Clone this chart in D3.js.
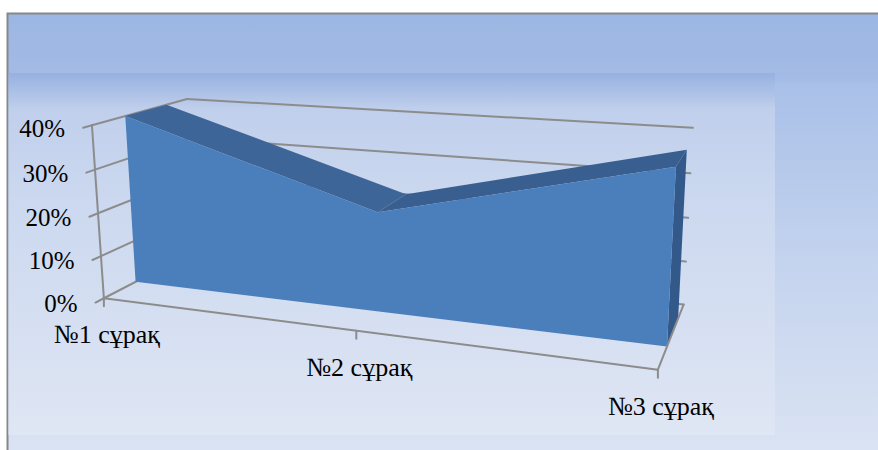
<!DOCTYPE html>
<html>
<head>
<meta charset="utf-8">
<script src="https://cdn.jsdelivr.net/npm/d3@7"></script>
<style>
  body { margin: 0; background: #ffffff; }
  svg { display: block; }
</style>
</head>
<body>
<div id="chart"></div>
<script>
const categories = ['№1 сұрақ', '№2 сұрақ', '№3 сұрақ'];
const values = [0.40, 0.225, 0.37];
const yTicks = [0, 0.1, 0.2, 0.3, 0.4];

const width = 878;
const height = 450;
const fontFamily = '"Liberation Serif", "Times New Roman", serif';
const gridColor = '#8c8c8c';

// depth of the area slab inside the box (0 = front, 1 = back wall)
const zFront = 0.32;
const zBack = 0.76;

// where the corners of the 3d box land on screen: [X, Y, Z, px, py]
const boxAnchors = [
  [0, 1, 0, 92, 125], [0, 0.75, 0, 95, 170], [0, 0.5, 0, 98, 213],
  [0, 0.25, 0, 101, 256], [0, 0, 0, 104, 298],
  [0, 1, 1, 187, 99],
  [1, 1, 1, 693, 128], [1, 0.75, 1, 690, 173], [1, 0.5, 1, 688, 218],
  [1, 0.25, 1, 687, 262], [1, 0, 1, 683, 304],
  [1, 0, 0, 658, 369], [0.5, 0, 0, 356, 332]
];

// fits a perspective projection (3x4 matrix, last entry 1) to the anchors
function fitProjection(anchors) {
  const n = 11;
  const cx = 440, cy = 225, s = 440;
  const A = Array.from({ length: n }, () => new Array(n + 1).fill(0));
  const addRow = (r, b) => {
    for (let i = 0; i < n; i++) {
      for (let j = 0; j < n; j++) A[i][j] += r[i] * r[j];
      A[i][n] += r[i] * b;
    }
  };
  anchors.forEach(([X, Y, Z, u, v]) => {
    const un = (u - cx) / s, vn = (v - cy) / s;
    addRow([X, Y, Z, 1, 0, 0, 0, 0, -un * X, -un * Y, -un * Z], un);
    addRow([0, 0, 0, 0, X, Y, Z, 1, -vn * X, -vn * Y, -vn * Z], vn);
  });
  for (let c = 0; c < n; c++) {
    let piv = c;
    for (let r = c + 1; r < n; r++) if (Math.abs(A[r][c]) > Math.abs(A[piv][c])) piv = r;
    [A[c], A[piv]] = [A[piv], A[c]];
    for (let r = 0; r < n; r++) {
      if (r === c) continue;
      const f = A[r][c] / A[c][c];
      for (let k = c; k <= n; k++) A[r][k] -= f * A[c][k];
    }
  }
  const p = A.map((row, i) => row[n] / row[i]);
  return (X, Y, Z) => {
    const w = p[8] * X + p[9] * Y + p[10] * Z + 1;
    const u = (p[0] * X + p[1] * Y + p[2] * Z + p[3]) / w;
    const v = (p[4] * X + p[5] * Y + p[6] * Z + p[7]) / w;
    return [u * s + cx, v * s + cy];
  };
}

const project = fitProjection(boxAnchors);

const x = d3.scalePoint().domain(categories).range([0, 1]);
const y = d3.scaleLinear().domain([0, 0.4]).range([0, 1]);
const pct = d3.format('.0%');

const svg = d3.select('#chart')
  .append('svg')
  .attr('width', width)
  .attr('height', height);

const defs = svg.append('defs');

const chartGrad = defs.append('linearGradient')
  .attr('id', 'chartGrad').attr('x1', 0).attr('y1', 0).attr('x2', 0).attr('y2', 1);
[[0, '#9cb6e3'], [0.14, '#a3bbe5'], [0.16, '#a9c0e8'], [0.55, '#c4d3ee'], [1, '#dbe4f3']]
  .forEach(([o, c]) => chartGrad.append('stop').attr('offset', o).attr('stop-color', c));

const plotGrad = defs.append('linearGradient')
  .attr('id', 'plotGrad').attr('x1', 0).attr('y1', 0).attr('x2', 0).attr('y2', 1);
[[0, '#96b1e0'], [0.1, '#c0cfec'], [0.35, '#cbd8ef'], [1, '#dfe6f4']]
  .forEach(([o, c]) => plotGrad.append('stop').attr('offset', o).attr('stop-color', c));

// chart area and plot area backgrounds
svg.append('rect')
  .attr('x', 7.5).attr('y', 13.5)
  .attr('width', width).attr('height', height)
  .attr('fill', 'url(#chartGrad)')
  .attr('stroke', '#878787')
  .attr('stroke-width', 2);

svg.append('rect')
  .attr('x', 8.5).attr('y', 73)
  .attr('width', 775 - 8.5).attr('height', 435 - 73)
  .attr('fill', 'url(#plotGrad)');

const seg = (g, a, b) => g.append('line')
  .attr('x1', a[0]).attr('y1', a[1])
  .attr('x2', b[0]).attr('y2', b[1])
  .attr('stroke', gridColor)
  .attr('stroke-width', 2)
  .attr('stroke-linecap', 'round');

// gridlines on the side and back walls
const grid = svg.append('g').attr('class', 'grid');
yTicks.forEach(t => {
  seg(grid, project(0, y(t), 0), project(0, y(t), 1));
  seg(grid, project(0, y(t), 1), project(1, y(t), 1));
});

// the area as a slab: top faces, right end cap, front face
const polyPath = pts => 'M' + pts.map(p => p.join(',')).join('L') + 'Z';
const area = svg.append('g').attr('class', 'area');

const pts = categories.map((c, i) => ({ X: x(c), Y: y(values[i]) }));

pts.slice(0, -1).forEach((p, i) => {
  const q = pts[i + 1];
  area.append('path')
    .attr('d', polyPath([
      project(p.X, p.Y, zFront), project(q.X, q.Y, zFront),
      project(q.X, q.Y, zBack), project(p.X, p.Y, zBack)
    ]))
    .attr('fill', i === 0 ? '#3e6597' : '#395f91');
});

const last = pts[pts.length - 1];
area.append('path')
  .attr('d', polyPath([
    project(last.X, last.Y, zFront), project(last.X, last.Y, zBack),
    project(last.X, 0, zBack), project(last.X, 0, zFront)
  ]))
  .attr('fill', '#33588a');

area.append('path')
  .attr('d', polyPath(
    pts.map(p => project(p.X, p.Y, zFront))
      .concat(pts.slice().reverse().map(p => project(p.X, 0, zFront)))
  ))
  .attr('fill', '#4b7fbc');

// floor edges, value axis and category ticks
const axes = svg.append('g').attr('class', 'axes');
seg(axes, project(0, 0, 0), project(1, 0, 0));
seg(axes, project(1, 0, 0), project(1, 0, 1));
seg(axes, project(0, 0, 0), project(0, 1, 0));

yTicks.forEach(t => {
  const a = project(0, y(t), -0.08);
  seg(axes, a, project(0, y(t), 0));
  axes.append('text')
    .attr('x', a[0] - 18)
    .attr('y', a[1] + 9)
    .attr('text-anchor', 'end')
    .style('font-family', fontFamily)
    .style('font-size', '25px')
    .attr('fill', '#000')
    .text(pct(t));
});

categories.forEach(c => {
  const a = project(x(c), 0, 0);
  const b = [a[0], a[1] + 8];
  seg(axes, a, b);
  axes.append('text')
    .attr('x', b[0] + 3)
    .attr('y', b[1] + 37)
    .attr('text-anchor', 'middle')
    .style('font-family', fontFamily)
    .style('font-size', '26px')
    .attr('fill', '#000')
    .text(c);
});
</script>
</body>
</html>
